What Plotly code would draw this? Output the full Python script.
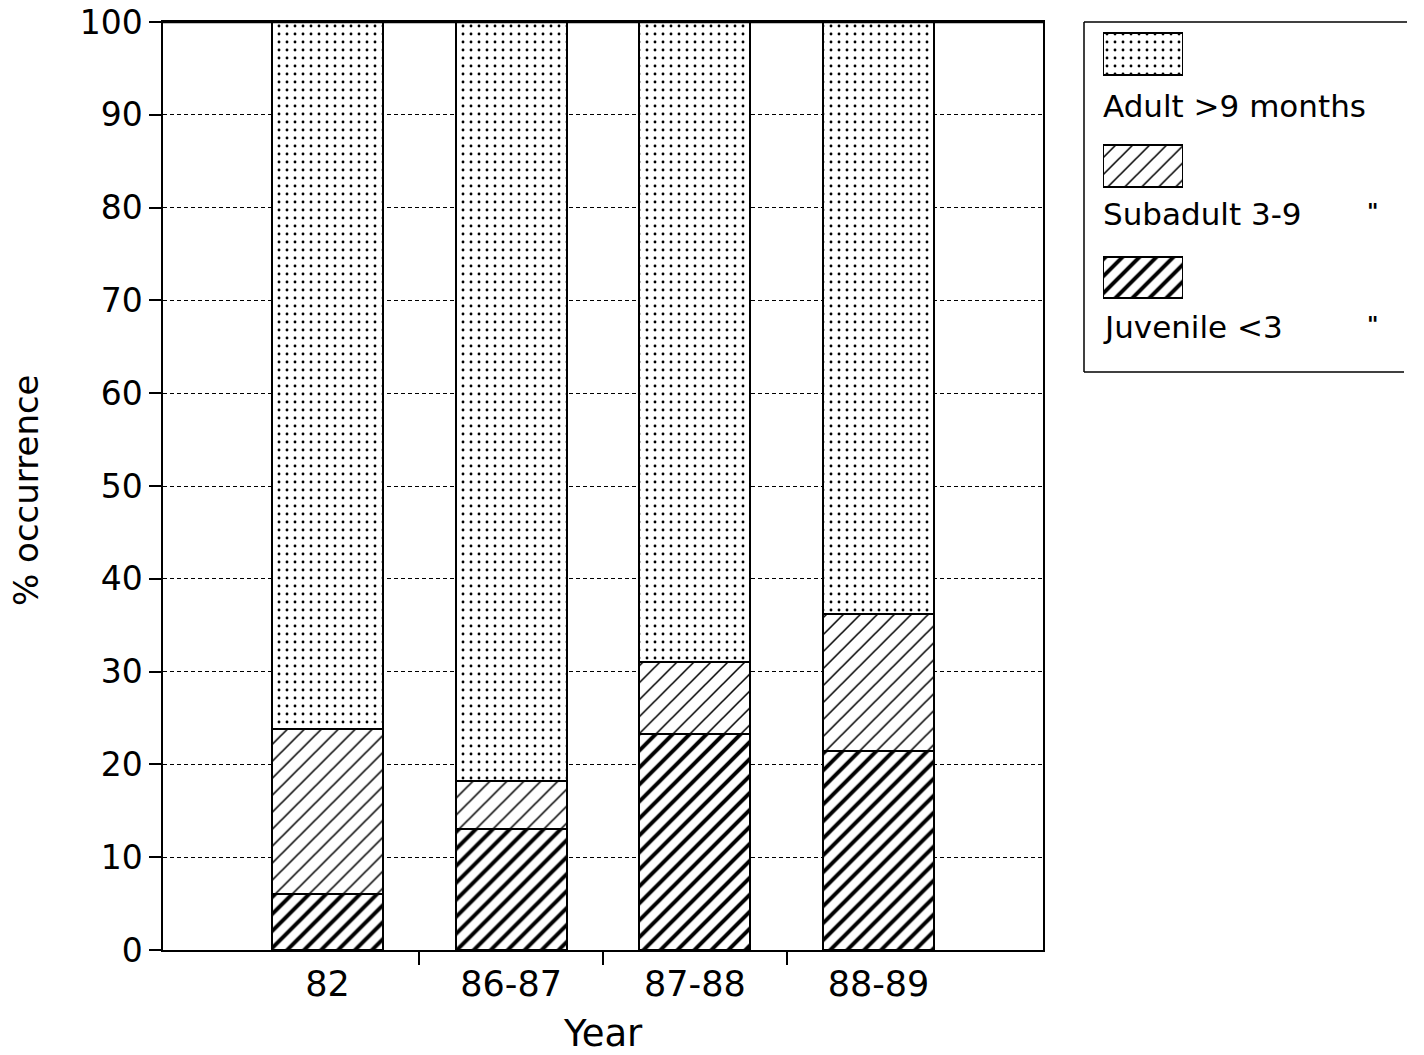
import plotly.graph_objects as go

# ---- data -------------------------------------------------------------
years = ["82", "86-87", "87-88", "88-89"]
juvenile = [6.0, 13.0, 23.3, 21.4]      # % occurrence, < 3 months
subadult = [17.8, 5.2, 7.7, 14.8]       # % occurrence, 3-9 months
adult = [76.2, 81.8, 69.0, 63.8]        # % occurrence, > 9 months
y_ticks = [0, 10, 20, 30, 40, 50, 60, 70, 80, 90, 100]
legend_labels = ["Adult >9 months", "Subadult 3-9", "Juvenile <3"]
ditto = "\""

# ---- page geometry (pixels) -------------------------------------------
W, H = 1424, 1055
ML, MR, MT, MB = 163, 14, 22, 105
PW = W - ML - MR
PH = H - MT - MB
PLOT_RIGHT = 1043


def px(xp):
    return (xp - ML) / PW


def py(yp):
    return (H - MB - yp) / PH


FONT = "DejaVu Sans"

# hatch styles, shared by bars and legend keys
styles = {
    "adult": dict(shape=".", size=8, solidity=0.1),
    "subadult": dict(shape="/", size=12, solidity=0.13),
    "juvenile": dict(shape="/", size=12, solidity=0.33),
}


def pattern(kind):
    return dict(fgcolor="black", bgcolor="white", fillmode="replace", **styles[kind])


xpos = list(range(1, len(years) + 1))
bar_w = 0.604

fig = go.Figure()
for name, vals, kind in [
    ("Juvenile", juvenile, "juvenile"),
    ("Subadult", subadult, "subadult"),
    ("Adult", adult, "adult"),
]:
    fig.add_trace(go.Bar(
        x=xpos, y=vals, name=name, width=bar_w,
        marker=dict(color="white", line=dict(color="black", width=2),
                    pattern=pattern(kind)),
        showlegend=False, hoverinfo="skip",
    ))

# legend keys: small patterned boxes drawn on a helper axis pair
key_tops = [33, 145, 257]
key_h = [42, 42, 41]
for top, h, kind in zip(key_tops, key_h, ["adult", "subadult", "juvenile"]):
    fig.add_trace(go.Bar(
        x=[0.5], y=[h], base=[top], width=1, xaxis="x2", yaxis="y2",
        marker=dict(color="white", line=dict(color="black", width=2),
                    pattern=pattern(kind)),
        showlegend=False, hoverinfo="skip",
    ))

fig.update_layout(
    width=W, height=H,
    margin=dict(l=ML, r=MR, t=MT, b=MB, autoexpand=False),
    paper_bgcolor="white", plot_bgcolor="white",
    barmode="stack", bargap=0,
    font=dict(family=FONT, color="black"),
    showlegend=False,
    xaxis=dict(
        domain=[0, px(PLOT_RIGHT)],
        range=[0.1045, 4.8955],
        tickmode="array", tickvals=xpos, ticktext=years,
        ticks="", tickfont=dict(size=35, family=FONT),
        ticklabelstandoff=2,
        minor=dict(tickmode="array", tickvals=[1.5, 2.5, 3.5],
                   ticks="outside", ticklen=13, tickwidth=1.5,
                   tickcolor="black", showgrid=False),
        showgrid=False, zeroline=False,
        showline=True, linecolor="black", linewidth=2, mirror=True,
        automargin=False, fixedrange=True,
    ),
    yaxis=dict(
        range=[0, 100],
        tickmode="array", tickvals=y_ticks,
        ticks="outside", ticklen=12, tickwidth=1.5, tickcolor="black",
        tickfont=dict(size=33, family=FONT),
        showgrid=True, gridcolor="black", gridwidth=1.4, griddash="4px,3px",
        zeroline=False,
        showline=True, linecolor="black", linewidth=1.5, mirror=True,
        automargin=False, fixedrange=True,
    ),
    xaxis2=dict(domain=[px(1103), px(1183)], range=[0, 1], anchor="y2",
                visible=False, automargin=False, fixedrange=True),
    yaxis2=dict(domain=[0, 1], range=[H - MB, MT], anchor="x2",
                visible=False, automargin=False, fixedrange=True),
)

# top border of the plot is drawn heavier
fig.add_shape(type="line", xref="paper", yref="paper",
              x0=0, x1=px(PLOT_RIGHT), y0=1, y1=1,
              line=dict(color="black", width=2.5))

# legend frame (open on the right)
frame = dict(color="black", width=1.5)
for x0, y0, x1, y1 in [(1084, 22, 1407, 22), (1084, 22, 1084, 372), (1084, 372, 1404, 372)]:
    fig.add_shape(type="line", xref="paper", yref="paper",
                  x0=px(x0), x1=px(x1), y0=py(y0), y1=py(y1), line=frame)

# legend texts
text_mid = [106, 214, 327]
for lab, ym in zip(legend_labels, text_mid):
    fig.add_annotation(x=px(1101), y=py(ym), xref="paper", yref="paper",
                       text=lab, showarrow=False, xanchor="left", yanchor="middle",
                       font=dict(size=31, family=FONT))
for ym in text_mid[1:]:
    fig.add_annotation(x=px(1372), y=py(ym - 3), xref="paper", yref="paper",
                       text="<b>" + ditto + "</b>", showarrow=False,
                       xanchor="center", yanchor="middle",
                       font=dict(size=22, family=FONT))

# axis titles
fig.add_annotation(x=px(603), y=py(1033), xref="paper", yref="paper",
                   text="Year", showarrow=False, xanchor="center", yanchor="middle",
                   font=dict(size=37, family=FONT))
fig.add_annotation(x=px(26), y=py(490), xref="paper", yref="paper",
                   text="% occurrence", textangle=-90, showarrow=False,
                   xanchor="center", yanchor="middle",
                   font=dict(size=34, family=FONT))

fig.write_html("out.html")
